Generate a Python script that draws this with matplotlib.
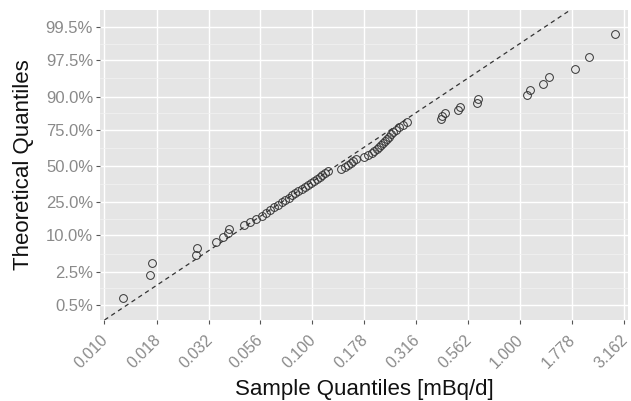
import numpy as np
import matplotlib
matplotlib.use("Agg")
import matplotlib.pyplot as plt
import matplotlib.transforms as mtrans
from statistics import NormalDist

# ---- data ----
sample_values = [
    0.0124, 0.0166, 0.0171, 0.0277, 0.0281, 0.0346, 0.0372, 0.0396, 0.0399,
    0.0471, 0.0503, 0.0538, 0.0575, 0.0601, 0.0628, 0.0657, 0.0687, 0.0718,
    0.0742, 0.0775, 0.0801, 0.0828, 0.0856, 0.0895, 0.0925, 0.0957, 0.0989,
    0.1022, 0.1057, 0.1093, 0.1117, 0.1155, 0.1194, 0.1378, 0.1441, 0.1490,
    0.1540, 0.1574, 0.1627, 0.1778, 0.1858, 0.1942, 0.1986, 0.2053, 0.2100,
    0.2146, 0.2194, 0.2244, 0.2294, 0.2345, 0.2398, 0.2451, 0.2533, 0.2619,
    0.2738, 0.2862, 0.4157, 0.4203, 0.4358, 0.5017, 0.5146, 0.6232, 0.6250,
    1.077, 1.117, 1.285, 1.383, 1.832, 2.139, 2.853,
]
x_tick_values = [0.010, 0.018, 0.032, 0.056, 0.100, 0.178, 0.316, 0.562, 1.000, 1.778, 3.162]
x_tick_labels = ["0.010", "0.018", "0.032", "0.056", "0.100", "0.178", "0.316",
                 "0.562", "1.000", "1.778", "3.162"]
y_tick_probs = [0.005, 0.025, 0.10, 0.25, 0.50, 0.75, 0.90, 0.975, 0.995]
y_tick_labels = ["0.5%", "2.5%", "10.0%", "25.0%", "50.0%", "75.0%", "90.0%", "97.5%", "99.5%"]
line_median = 0.1303     # reference line: median of fitted log-normal
line_log10_sd = 0.39     # reference line: sd of log10 values

nd = NormalDist()
xs = np.sort(np.array(sample_values))
n = len(xs)
theo = np.array([nd.inv_cdf((i - 0.5) / n) for i in range(1, n + 1)])

# ---- figure ----
plt.rcParams['font.family'] = ['Liberation Sans', 'DejaVu Sans']
fig = plt.figure(figsize=(6.31, 4.01), dpi=100)
W, H = 631, 401
ax = fig.add_axes([100 / W, 1 - 320 / H, (628 - 100) / W, (320 - 10) / H])
ax.set_facecolor('#E5E5E5')
for s in ax.spines.values():
    s.set_visible(False)

ax.set_xscale('log')
xlo, xhi = 10 ** -2.019, 10 ** 0.519
ylo, yhi = -2.852, 2.889
ax.set_xlim(xlo, xhi)
ax.set_ylim(ylo, yhi)

yt = [nd.inv_cdf(p) for p in y_tick_probs]
ax.set_xticks(x_tick_values)
ax.set_xticklabels(x_tick_labels)
ax.xaxis.set_minor_locator(matplotlib.ticker.NullLocator())
ax.set_yticks(yt)
ax.set_yticklabels(y_tick_labels)
ymin_minor = [(yt[i] + yt[i + 1]) / 2 for i in range(len(yt) - 1)]
ax.set_yticks(ymin_minor, minor=True)

ax.grid(True, which='major', color='white', linewidth=1.0)
ax.grid(True, which='minor', axis='y', color='#F2F2F2', linewidth=0.5)
ax.set_axisbelow(True)
ax.tick_params(axis='both', which='major', length=3, width=0.8, color='#555555',
               labelcolor='#8A8A8A', labelsize=12, pad=2)
ax.tick_params(axis='x', which='major', pad=6, labelsize=11.5)
ax.tick_params(axis='y', which='minor', length=0)
shift = mtrans.ScaledTranslation(-4 / 100, 0, fig.dpi_scale_trans)
for lab in ax.get_xticklabels():
    lab.set_rotation(45)
    lab.set_ha('right')
    lab.set_va('top')
    lab.set_rotation_mode('anchor')
    lab.set_transform(lab.get_transform() + shift)

# reference line
zz = np.array([ylo - 0.5, yhi + 0.5])
ax.plot(line_median * 10 ** (line_log10_sd * zz), zz, linestyle=(0, (3.5, 3)),
        color='#333333', linewidth=0.9, zorder=2)

# points
ax.plot(xs, theo, linestyle='none', marker='o', markersize=5.6, markerfacecolor='none',
        markeredgecolor='#333333', markeredgewidth=0.7, zorder=3)

fig.text(364 / W, 1 - 390 / H, 'Sample Quantiles [mBq/d]', ha='center', va='center',
         fontsize=16, color='#111111')
fig.text(24 / W, 1 - 165 / H, 'Theoretical Quantiles', ha='center', va='center',
         rotation=90, fontsize=16, color='#111111')

fig.savefig('out.png', dpi=100)
